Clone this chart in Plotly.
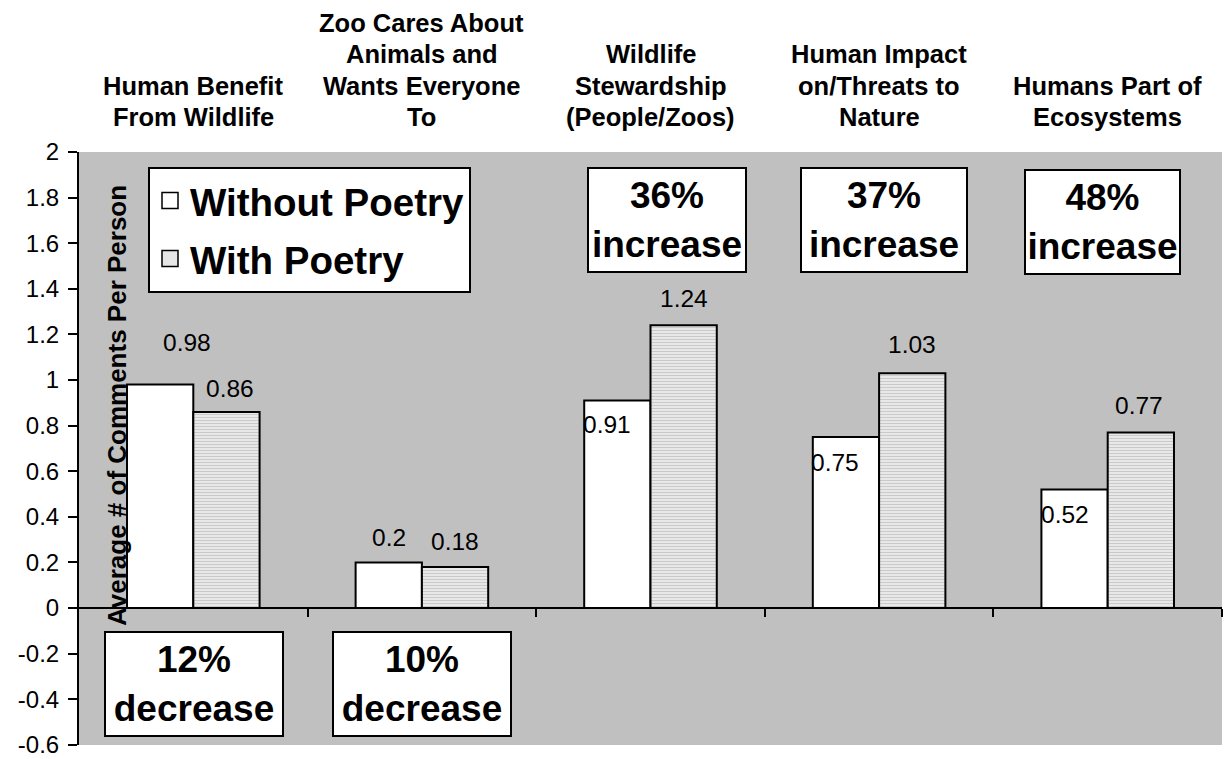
import plotly.graph_objects as go

# Category headings (one list entry per line of the heading)
category_lines = [
    ["Human Benefit", "From Wildlife"],
    ["Zoo Cares About", "Animals and", "Wants Everyone", "To"],
    ["Wildlife", "Stewardship", "(People/Zoos)"],
    ["Human Impact", "on/Threats to", "Nature"],
    ["Humans Part of", "Ecosystems"],
]
without_poetry = [0.98, 0.20, 0.91, 0.75, 0.52]
with_poetry = [0.86, 0.18, 1.24, 1.03, 0.77]
change_labels = ["12%<br>decrease", "10%<br>decrease", "36%<br>increase",
                 "37%<br>increase", "48%<br>increase"]
y_ticks = [-0.6, -0.4, -0.2, 0, 0.2, 0.4, 0.6, 0.8, 1, 1.2, 1.4, 1.6, 1.8, 2]
y_tick_text = ["-0.6", "-0.4", "-0.2", "0", "0.2", "0.4", "0.6", "0.8", "1",
               "1.2", "1.4", "1.6", "1.8", "2"]

FONT = "Liberation Sans, Arial, sans-serif"
x_pos = list(range(len(category_lines)))
half = 0.1445  # offset of each bar centre within a group
WITH_FILL = "#e6e6e6"

fig = go.Figure()
fig.add_trace(go.Bar(
    x=x_pos, y=without_poetry, name="Without Poetry", showlegend=False,
    marker=dict(color="white", line=dict(color="black", width=2)),
))
fig.add_trace(go.Bar(
    x=x_pos, y=with_poetry, name="With Poetry", showlegend=False,
    marker=dict(color=WITH_FILL, line=dict(color="black", width=2),
                pattern=dict(shape="-", bgcolor="#e8e8e8", fgcolor="#cacaca",
                             size=3, solidity=0.35, fillmode="replace")),
))
# legend keys drawn as larger square swatches
for nm, col, grp in (("Without Poetry", "white", "a"), ("With Poetry", WITH_FILL, "b")):
    fig.add_trace(go.Scatter(
        x=[None], y=[None], mode="markers", name=f"<b>{nm}</b>",
        legendgroup=grp,
        marker=dict(symbol="square", size=16, color=col,
                    line=dict(color="black", width=1.5)),
    ))

annotations = []

# value labels, nudged like hand-placed spreadsheet labels
wo_shift = [(27, 42), (0, 25), (-10, -24), (-11, -25), (-10, -25)]
wi_shift = [(4, 23), (0, 26), (0, 27), (0, 29), (-2, 27)]
for i in x_pos:
    for val, side, (dx, dy) in ((without_poetry[i], -half, wo_shift[i]),
                                (with_poetry[i], half, wi_shift[i])):
        annotations.append(dict(
            x=i + side, y=val, xref="x", yref="y", text=f"{val:g}",
            showarrow=False, xshift=dx, yshift=dy,
            font=dict(family=FONT, size=24.5, color="black"),
        ))

# category headings above the plot, one annotation per line
line_gap = 31.5
for i, lines in enumerate(category_lines):
    n = len(lines)
    for k, txt in enumerate(lines):
        annotations.append(dict(
            x=i, y=1, xref="x", yref="paper", text=f"<b>{txt}</b>",
            showarrow=False, yanchor="middle",
            yshift=35 + (n - 1 - k) * line_gap,
            font=dict(family=FONT, size=25.5, color="black"),
        ))

# percentage-change boxes
box_pos = [(0.003, -0.332, 176), (1.0, -0.332, 176), (2.072, 1.702, 156),
           (3.021, 1.702, 164), (3.977, 1.693, 153)]
for (bx, by, bw), txt in zip(box_pos, change_labels):
    annotations.append(dict(
        x=bx, y=by, xref="x", yref="y", text=f"<b>{txt}</b>",
        showarrow=False, width=bw, height=102, borderpad=0,
        bgcolor="white", bordercolor="black", borderwidth=2,
        font=dict(family=FONT, size=37, color="black"),
    ))

# y-axis title sits inside the plotting area
annotations.append(dict(
    x=0.0184, y=0.886, xref="paper", yref="y",
    text="<b>Average # of Comments Per Person</b>", textangle=-90,
    showarrow=False, font=dict(family=FONT, size=26, color="black"),
))

zero_pos = 0.6 / 2.6
y_range = [-0.6005, 2.0]
fig.update_layout(
    width=1224, height=759,
    margin=dict(l=79, r=2, t=152, b=14, autoexpand=False),
    paper_bgcolor="white", plot_bgcolor="#c0c0c0",
    barmode="group", bargap=0.42, bargroupgap=0,
    showlegend=True,
    legend=dict(
        x=(148 - 79) / 1143, y=(745 - 167) / 593, xanchor="left", yanchor="top",
        bgcolor="white", bordercolor="black", borderwidth=2,
        font=dict(family=FONT, size=38.5, color="black"),
        traceorder="grouped", itemwidth=30, tracegroupgap=5,
        itemsizing="trace",
    ),
    xaxis=dict(
        range=[-0.5, 4.5], anchor="free", position=zero_pos,
        showline=True, linecolor="black", linewidth=2,
        tickvals=[0.5, 1.5, 2.5, 3.5, 4.5], ticks="outside", ticklen=8,
        tickwidth=2, tickcolor="black", showticklabels=False,
        showgrid=False, zeroline=False, automargin=False,
    ),
    xaxis2=dict(
        range=[-0.5, 4.5], overlaying="x", anchor="free", position=zero_pos,
        showline=False, tickvals=[0.5, 1.5, 2.5, 3.5, 4.5], ticks="inside",
        ticklen=8, tickwidth=2, tickcolor="black", showticklabels=False,
        showgrid=False, zeroline=False, automargin=False,
    ),
    yaxis=dict(
        range=y_range, tickvals=y_ticks, ticktext=y_tick_text,
        showline=True, linecolor="black", linewidth=2,
        ticks="outside", ticklen=9, tickwidth=2, tickcolor="black",
        tickfont=dict(family=FONT, size=24, color="black"),
        ticklabelstandoff=4, ticklabeloverflow="allow",
        showgrid=False, zeroline=False, automargin=False,
    ),
    yaxis2=dict(
        range=y_range, overlaying="y", side="left", anchor="x",
        tickvals=y_ticks, ticks="inside", ticklen=9, tickwidth=2,
        tickcolor="black", showticklabels=False, showline=False,
        showgrid=False, zeroline=False, automargin=False,
    ),
    annotations=annotations,
)

fig.write_html("out.html")
